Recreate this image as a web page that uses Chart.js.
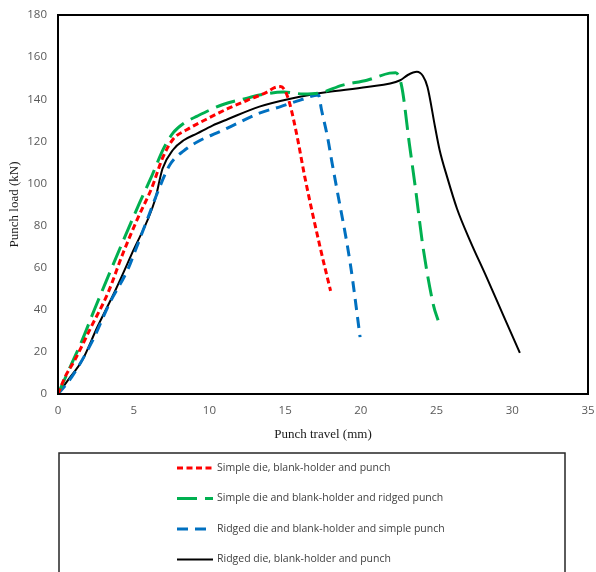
<!DOCTYPE html>
<html>
<head>
<meta charset="utf-8">
<script src="https://cdn.jsdelivr.net/npm/chart.js@4.4.1/dist/chart.umd.min.js"></script>
<style>
  body { margin: 0; background: #fff; }
  canvas { display: block; }
</style>
</head>
<body>
<canvas id="punchChart" width="596" height="572"></canvas>
<script>
// values
var travelTicks = [0, 5, 10, 15, 20, 25, 30, 35];
var loadTicks = [0, 20, 40, 60, 80, 100, 120, 140, 160, 180];

var simpleTravel = [0, 0.46, 1.1, 2.2, 3.3, 4.3, 5.3, 6.2, 6.9, 7.6, 8.5, 9.8, 11.2, 12.5, 13.8, 14.3, 14.7, 15.0, 15.3, 15.8, 16.3, 17.3, 18.0];
var simpleLoad   = [0, 8, 16, 32, 48, 67, 84, 98, 112, 121, 125.5, 130.5, 135.5, 139.5, 143.4, 145.5, 146, 144, 138, 122, 103, 70, 49];

var ridgedPunchTravel = [0, 0.8, 1.6, 2.4, 3.3, 4.2, 5.4, 6.1, 7.0, 7.6, 8.3, 9.2, 10.9, 12.5, 13.3, 14.9, 16.2, 17.3, 18.8, 20.4, 21.9, 22.3, 22.7, 23.2, 23.6, 24.1, 24.8, 25.1];
var ridgedPunchLoad   = [0, 12.8, 25.6, 40, 55.6, 71, 91, 102, 117, 124, 128.5, 132, 137.5, 140.5, 142, 143.4, 142.5, 143, 146.7, 149, 152.4, 152.6, 146, 119, 98, 70, 42, 35];

var ridgedDieTravel = [0, 0.9, 2.3, 3.4, 4.6, 5.1, 5.9, 6.7, 7.4, 8.3, 9.4, 10.5, 11.4, 13.3, 14.7, 16.0, 17.2, 17.4, 17.8, 18.1, 18.4, 19.3, 19.95];
var ridgedDieLoad   = [0, 8, 25.6, 43, 59, 68, 83, 98, 109, 115.5, 120.5, 124, 127, 133.4, 136.5, 139.6, 142, 135, 122, 109.7, 98, 62, 27];

var ridgedAllTravel = [0, 0.66, 1.6, 2.6, 3.8, 4.9, 6.4, 6.9, 7.6, 8.3, 9.2, 10.2, 11.2, 13.3, 15.5, 17.8, 20.4, 22.6, 23.1, 23.7, 24.1, 24.4, 24.9, 25.2, 25.7, 26.35, 27.2, 28.3, 29.4, 30.5];
var ridgedAllLoad   = [0, 6.6, 16, 31.8, 49.4, 67, 92, 107, 116, 120.5, 123.8, 127.5, 130.5, 136.5, 140.5, 143.4, 145.8, 149, 151.5, 153, 151, 145.8, 126.8, 115.9, 103, 88, 73, 55.5, 37.5, 19.5];

var seriesLabels = [
    'Simple die, blank-holder and punch',
    'Simple die and blank-holder and ridged punch',
    'Ridged die and blank-holder and simple punch',
    'Ridged die, blank-holder and punch'
];

function toPoints(xs, ys) {
    return xs.map(function (x, i) { return { x: x, y: ys[i] }; });
}

// draws the plot frame and the boxed legend underneath
var frameAndLegend = {
    id: 'frameAndLegend',
    afterDraw: function (chart) {
        var ctx = chart.ctx;
        var a = chart.chartArea;
        ctx.save();
        ctx.setLineDash([]);
        ctx.strokeStyle = '#000';
        ctx.lineWidth = 2;
        ctx.strokeRect(a.left, a.top, a.right - a.left, a.bottom - a.top);

        ctx.lineWidth = 1.5;
        ctx.strokeStyle = '#262626';
        ctx.strokeRect(59, 453, 506, 140);

        ctx.font = '10.5px "Open Sans"';
        ctx.fillStyle = '#404040';
        ctx.textBaseline = 'middle';
        chart.data.datasets.forEach(function (ds, i) {
            var y = 468 + i * 30.5;
            ctx.beginPath();
            ctx.setLineDash(ds.borderDash || []);
            ctx.strokeStyle = ds.borderColor;
            ctx.lineWidth = ds.borderWidth;
            ctx.moveTo(177, y);
            ctx.lineTo(213, y);
            ctx.stroke();
            ctx.setLineDash([]);
            ctx.fillText(ds.label, 217, y);
        });
        ctx.restore();
    }
};

var ctx = document.getElementById('punchChart').getContext('2d');

var myChart = new Chart(ctx, {
    type: 'line',
    data: {
        datasets: [{
            label: seriesLabels[0],
            data: toPoints(simpleTravel, simpleLoad),
            borderColor: '#FF0000',
            borderWidth: 3,
            borderDash: [6, 3.5]
        }, {
            label: seriesLabels[1],
            data: toPoints(ridgedPunchTravel, ridgedPunchLoad),
            borderColor: '#00B050',
            borderWidth: 3,
            borderDash: [20, 8]
        }, {
            label: seriesLabels[2],
            data: toPoints(ridgedDieTravel, ridgedDieLoad),
            borderColor: '#0070C0',
            borderWidth: 3,
            borderDash: [11, 7]
        }, {
            label: seriesLabels[3],
            data: toPoints(ridgedAllTravel, ridgedAllLoad),
            borderColor: '#000000',
            borderWidth: 2,
            borderDash: []
        }]
    },
    options: {
        responsive: false,
        animation: false,
        layout: {
            padding: { top: 15, right: 8, left: 0, bottom: 130 }
        },
        elements: {
            point: { radius: 0 },
            line: { cubicInterpolationMode: 'monotone', fill: false }
        },
        scales: {
            x: {
                type: 'linear',
                min: 0,
                max: 35,
                afterBuildTicks: function (scale) {
                    scale.ticks = travelTicks.map(function (v) { return { value: v }; });
                },
                afterFit: function (scale) {
                    scale.height = 48;
                    scale.paddingLeft = 0;
                    scale.paddingRight = 0;
                },
                grid: { display: false, drawTicks: false },
                border: { display: false },
                ticks: {
                    padding: 10,
                    maxRotation: 0,
                    color: '#595959',
                    font: { family: 'Open Sans', size: 11.5 }
                },
                title: {
                    display: true,
                    text: 'Punch travel (mm)',
                    color: '#1a1a1a',
                    padding: { top: 3, bottom: 0 },
                    font: { family: 'Liberation Serif', size: 13 }
                }
            },
            y: {
                min: 0,
                max: 180,
                afterBuildTicks: function (scale) {
                    scale.ticks = loadTicks.map(function (v) { return { value: v }; });
                },
                afterFit: function (scale) {
                    scale.width = 58;
                    scale.paddingTop = 0;
                    scale.paddingBottom = 0;
                },
                grid: { display: false, drawTicks: false },
                border: { display: false },
                ticks: {
                    padding: 11,
                    color: '#595959',
                    font: { family: 'Open Sans', size: 11.5 }
                },
                title: {
                    display: true,
                    text: 'Punch load (kN)',
                    color: '#1a1a1a',
                    padding: { top: 7, bottom: 0 },
                    font: { family: 'Liberation Serif', size: 13 }
                }
            }
        },
        plugins: {
            legend: { display: false },
            tooltip: { enabled: false }
        }
    },
    plugins: [frameAndLegend]
});
</script>
</body>
</html>
